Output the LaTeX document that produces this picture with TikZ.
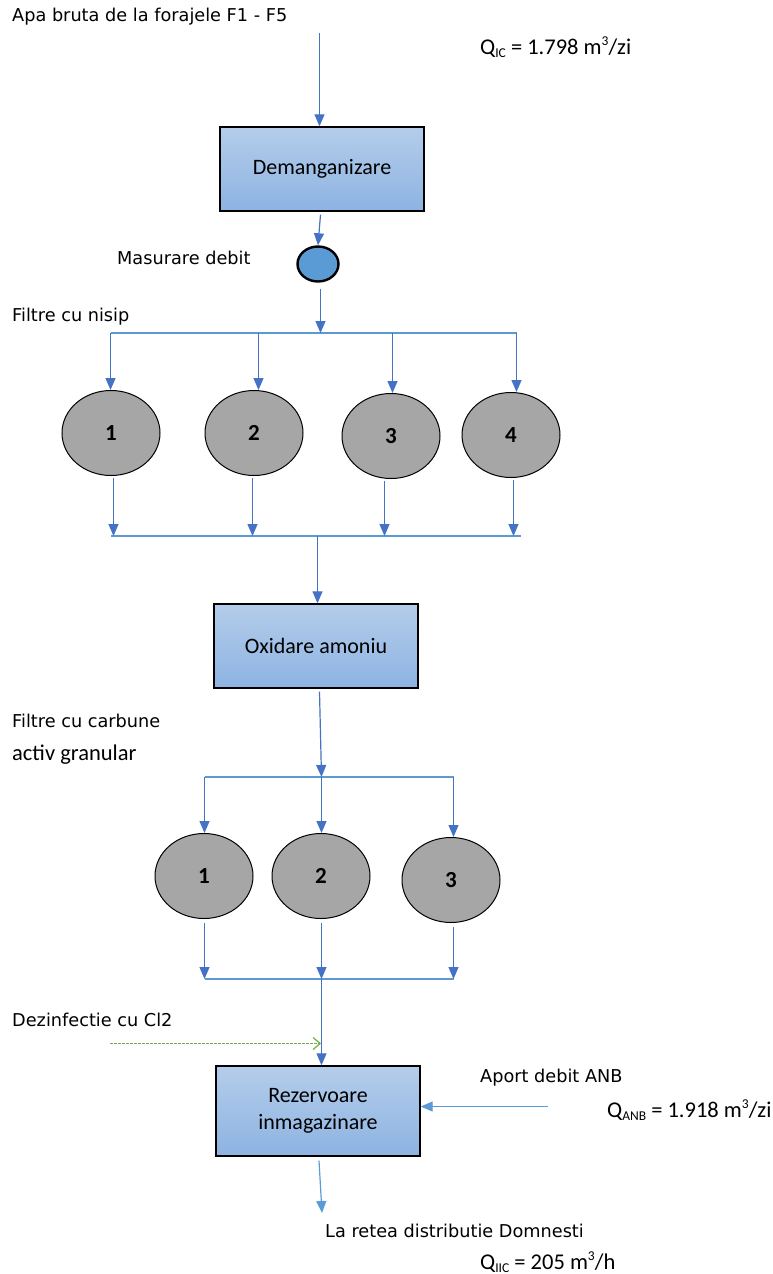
\documentclass[tikz,border=0pt]{standalone}
\usepackage{fontspec}
\setmainfont{Carlito}
\newfontfamily\vfont{DejaVu Sans}
\newfontfamily\calfont{Carlito}
\usetikzlibrary{arrows.meta,shapes.geometric,calc}
\definecolor{flowblue}{HTML}{4472C4}
\definecolor{busblue}{HTML}{5B9BD5}
\definecolor{boxtop}{HTML}{B4CDEA}
\definecolor{boxbot}{HTML}{8DB3E2}
\definecolor{filtergray}{HTML}{A6A6A6}
\definecolor{clgreen}{HTML}{70AD47}
% small index and exponent for the flow rates
\newcommand\qidx[1]{\raisebox{-3pt}{\fontsize{13.5}{14}\selectfont #1}}
\newcommand\qexp[1]{\raisebox{9pt}{\fontsize{13.5}{14}\selectfont #1}}
\tikzset{
  flow/.style={draw=flowblue, line width=1.2pt, -{Triangle[length=12pt,width=10pt]}},
  lightflow/.style={draw=busblue, line width=1.2pt, -{Triangle[length=12pt,width=10pt]}},
  bus/.style={draw=busblue, line width=1.3pt},
  procbox/.style={draw=black, line width=1.4pt, rectangle, top color=boxtop, bottom color=boxbot,
    minimum width=204pt, minimum height=84pt, inner sep=0pt, align=center, font=\calfont\fontsize{22}{27}\selectfont},
  filter/.style={draw=black, line width=1pt, ellipse, fill=filtergray, minimum width=98pt,
    minimum height=85pt, inner sep=0pt, font=\calfont\bfseries\fontsize{23}{26}\selectfont},
  meter/.style={draw=black, line width=2.4pt, ellipse, fill=busblue, minimum width=41pt, minimum height=35pt, inner sep=0pt},
  lbl/.style={anchor=west, inner sep=0pt, font=\vfont\fontsize{17.7}{21}\selectfont},
  qlbl/.style={anchor=west, inner sep=0pt, font=\calfont\fontsize{22.5}{26}\selectfont},
  dosing/.style={draw=clgreen, line width=1.4pt, dash pattern=on 3pt off 1pt,
    -{Straight Barb[length=7pt,width=12pt,line width=1.2pt]}},
}
\begin{document}
\begin{tikzpicture}[x=1pt,y=-1pt]
\useasboundingbox (0,0) rectangle (773,1274);

% --- raw water inlet and demanganisation
\node[lbl] (src) at (12,17) {Apa bruta de la forajele F1 - F5};
\node[qlbl] (qic) at (480,47) {Q\qidx{IC} = 1.798 m\qexp{3}/zi};
\coordinate (in) at (319.5,33);
\node[procbox] (dem) at (322,169) {Demanganizare};
\draw[flow] (in) -- (in |- dem.north);

% --- flow meter
\node[meter] (fm) at (318,264) {};
\node[lbl] (fmlbl) at (117,258) {Masurare debit};
\draw[flow] ($(dem.south)+(-1.5,3)$) -- (fm.north);

% --- sand filters
\node[lbl] (sandlbl) at (12,317) {Filtre cu nisip};
\coordinate (sb1) at (110.5,333);
\coordinate (sb2) at (258.5,333);
\coordinate (sb3) at (392.5,333);
\coordinate (sb4) at (516.5,333);
\coordinate (sbin) at (320.5,333);
\draw[bus] (sb1) -- (sb4);
\draw[flow] ($(fm.south)+(2.5,6)$) -- (sbin);

\node[filter] (s1) at (111,433) {1};
\node[filter] (s2) at (254,433) {2};
\node[filter] (s3) at (391,436) {3};
\node[filter] (s4) at (511,435) {4};
\draw[flow] (sb1) -- (sb1 |- s1.north);
\draw[flow] (sb2) -- (sb2 |- s2.north);
\draw[flow] (sb3) -- (sb3 |- s3.north);
\draw[flow] (sb4) -- (sb4 |- s4.north);

\coordinate (so1) at (113.5,536);
\coordinate (so2) at (252.5,536);
\coordinate (so3) at (384.5,536);
\coordinate (so4) at (513.5,536);
\coordinate (soout) at (317.5,536);
\draw[bus] (111,536) -- (521,536);
\draw[flow] ($(so1 |- s1.south)+(0,2)$) -- (so1);
\draw[flow] ($(so2 |- s2.south)+(0,2)$) -- (so2);
\draw[flow] ($(so3 |- s3.south)+(0,2)$) -- (so3);
\draw[flow] ($(so4 |- s4.south)+(0,2)$) -- (so4);

% --- ammonium oxidation
\node[procbox] (oxi) at (316,646) {Oxidare amoniu};
\draw[flow] (soout) -- (soout |- oxi.north);

% --- granular activated carbon filters
\node[lbl] (gaclbl) at (12,721) {Filtre cu carbune};
\node[qlbl] (gaclbl2) at (12,755) {activ granular};
\coordinate (gb1) at (204.5,777);
\coordinate (gb2) at (321.5,777);
\coordinate (gb3) at (453.5,777);
\draw[bus] (gb1) -- (gb3);
\draw[flow] ($(oxi.south)+(3.5,3)$) -- (gb2);

\node[filter] (g1) at (204,876) {1};
\node[filter] (g2) at (321,876) {2};
\node[filter] (g3) at (451,880) {3};
\draw[flow] (gb1) -- (gb1 |- g1.north);
\draw[flow] (gb2) -- (gb2 |- g2.north);
\draw[flow] (gb3) -- (gb3 |- g3.north);

\coordinate (go1) at (204.5,979);
\coordinate (go2) at (321.5,979);
\coordinate (go3) at (453.5,979);
\draw[bus] (go1) -- (go3);
\draw[flow] ($(go1 |- g1.south)+(0,4)$) -- (go1);
\draw[flow] ($(go2 |- g2.south)+(0,4)$) -- (go2);
\draw[flow] ($(go3 |- g3.south)+(0,4)$) -- (go3);

% --- disinfection and storage
\node[lbl] (cllbl) at (12,1020) {Dezinfectie cu Cl2};
\node[procbox, minimum height=90pt] (rez) at (318,1111) {Rezervoare\\inmagazinare};
\draw[flow] (go2) -- (go2 |- rez.north);
\coordinate (clin) at (110,1043.5);
\coordinate (cljoin) at (321,1043.5);
\draw[dosing] (clin) -- (cljoin);

% --- additional supply
\node[lbl] (anblbl) at (480,1078) {Aport debit ANB};
\node[qlbl] (qanb) at (607,1110) {Q\qidx{ANB} = 1.918 m\qexp{3}/zi};
\coordinate (anbin) at (548,1106.5);
\draw[lightflow] (anbin) -- (anbin -| rez.east);

% --- distribution outlet
\node[lbl] (outlbl) at (325,1231) {La retea distributie Domnesti};
\node[qlbl] (qiic) at (480,1262) {Q\qidx{IIC} = 205 m\qexp{3}/h};
\coordinate (outend) at (322,1213);
\draw[lightflow] ($(rez.south)+(1,4)$) -- (outend);
\end{tikzpicture}
\end{document}
